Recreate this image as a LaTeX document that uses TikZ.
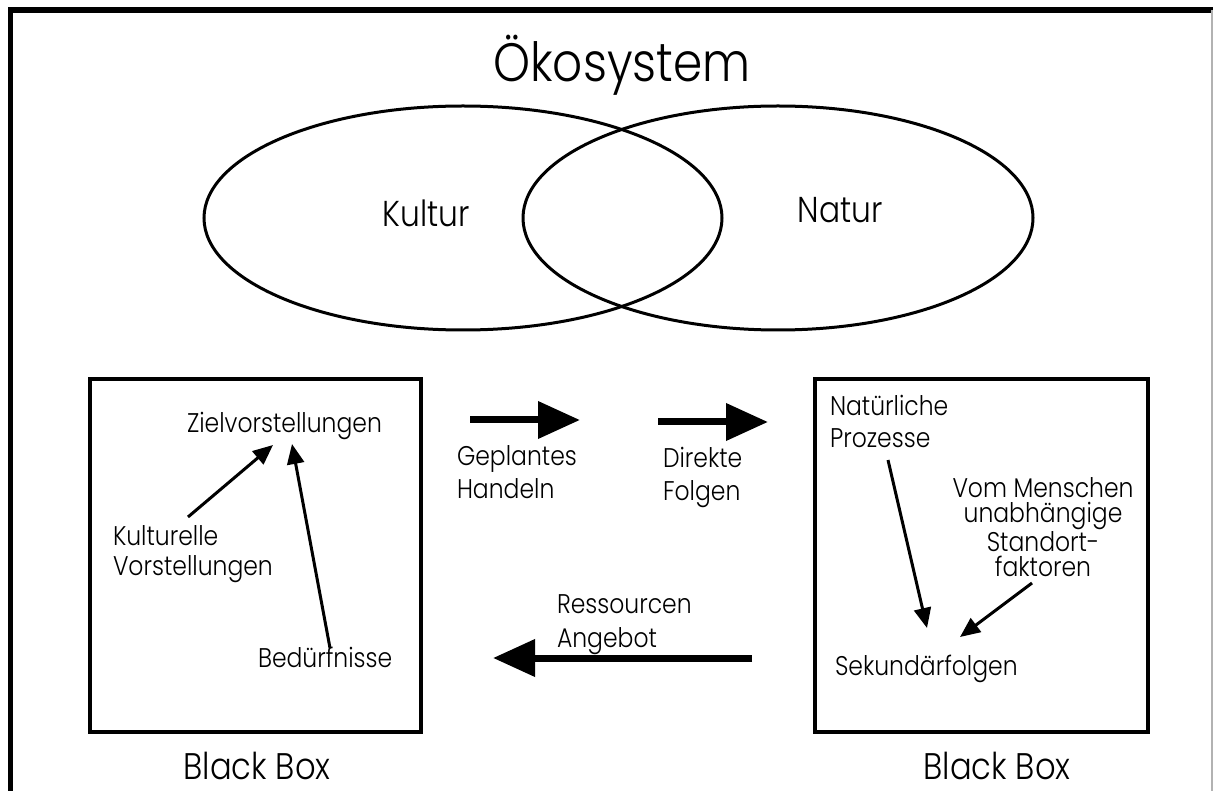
\documentclass[tikz,border=0pt]{standalone}
\usepackage{fontspec}
\setmainfont{Poppins}[UprightFont=* Light, FakeStretch=0.87]
\usetikzlibrary{arrows.meta,shapes.geometric}
\begin{document}
\begin{tikzpicture}[x=1pt,y=-1pt,
  every node/.style={inner sep=0pt, outer sep=0pt},
  txt/.style={font=\fontsize{27}{33}\selectfont, align=left},
  blocktxt/.style={font=\fontsize{27}{25}\selectfont, align=center},
  bigtxt/.style={font=\fontsize{36}{44}\selectfont},
  thinarrow/.style={line width=3pt, -{Triangle[length=20pt,width=17pt]}},
  fatarrow/.style={line width=7pt, -{Triangle[length=42pt,width=36pt]}},
  boxst/.style={draw, line width=3.5pt},
  ell/.style={draw, ellipse, line width=3pt, minimum width=518pt, minimum height=224pt}]
\useasboundingbox (0,0) rectangle (1213,791);
% frame
\draw[line width=5.5pt] (10.5,791) -- (10.5,10) -- (1213,10);
\draw[gray!60, line width=1.2pt] (1212,10) -- (1212,791);
% title
\node[font=\fontsize{54}{60}\selectfont, anchor=base] (title) at (622,82) {Ökosystem};
% ellipses
\node[ell] (kulturell) at (463,218) {};
\node[ell, minimum width=510pt] (naturell) at (778,218) {};
\node[bigtxt, anchor=base] (kultur) at (426,227) {Kultur};
\node[bigtxt, anchor=base] (natur) at (840,223) {Natur};
% boxes
\draw[boxst] (90,379) rectangle (421,732);
\draw[boxst] (815,379) rectangle (1148,732);
\node[bigtxt, font=\fontsize{37}{44}\selectfont, anchor=base] (bb1) at (257,779) {Black Box};
\node[bigtxt, font=\fontsize{37}{44}\selectfont, anchor=base] (bb2) at (997,779) {Black Box};
% left box texts (base anchor = baseline of the last line)
\node[txt, anchor=base west] (ziel) at (187,432) {Zielvorstellungen};
\node[txt, font=\fontsize{27}{30}\selectfont, anchor=base west] (kvor) at (113,575) {Kulturelle\\Vorstellungen};
\node[txt, anchor=base west] (bed) at (258,667) {Bedürfnisse};
% right box texts
\node[txt, font=\fontsize{27}{32}\selectfont, anchor=base west] (natpro) at (830,447) {Natürliche\\Prozesse};
\node[blocktxt, anchor=base] (vom) at (1043,576) {Vom Menschen\\unabhängige\\Standort-\\faktoren};
\node[txt, anchor=base west] (sek) at (835,675) {Sekundärfolgen};
% middle texts
\node[txt, anchor=base west] (gep) at (457,498) {Geplantes\\Handeln};
\node[txt, anchor=base west] (dir) at (663,500) {Direkte\\Folgen};
\node[txt, font=\fontsize{27}{34}\selectfont, anchor=base west] (res) at (557,647) {Ressourcen\\Angebot};
% connector end points
\coordinate (kvS) at (188,517);
\coordinate (kvT) at (273,445);
\coordinate (beS) at (330,648);
\coordinate (beT) at (292,444);
\coordinate (npS) at (888,460);
\coordinate (npT) at (927,628);
\coordinate (stS) at (1032,583);
\coordinate (stT) at (960,637);
\coordinate (a1S) at (470,420);
\coordinate (a1T) at (580,420);
\coordinate (a2S) at (658,422);
\coordinate (a2T) at (768,422);
\coordinate (a3S) at (752,658);
\coordinate (a3T) at (493,658);
% connectors
\draw[thinarrow] (kvS) -- (kvT);
\draw[thinarrow] (beS) -- (beT);
\draw[thinarrow] (npS) -- (npT);
\draw[thinarrow] (stS) -- (stT);
\draw[fatarrow] (a1S) -- (a1T);
\draw[fatarrow] (a2S) -- (a2T);
\draw[fatarrow] (a3S) -- (a3T);
\end{tikzpicture}
\end{document}
